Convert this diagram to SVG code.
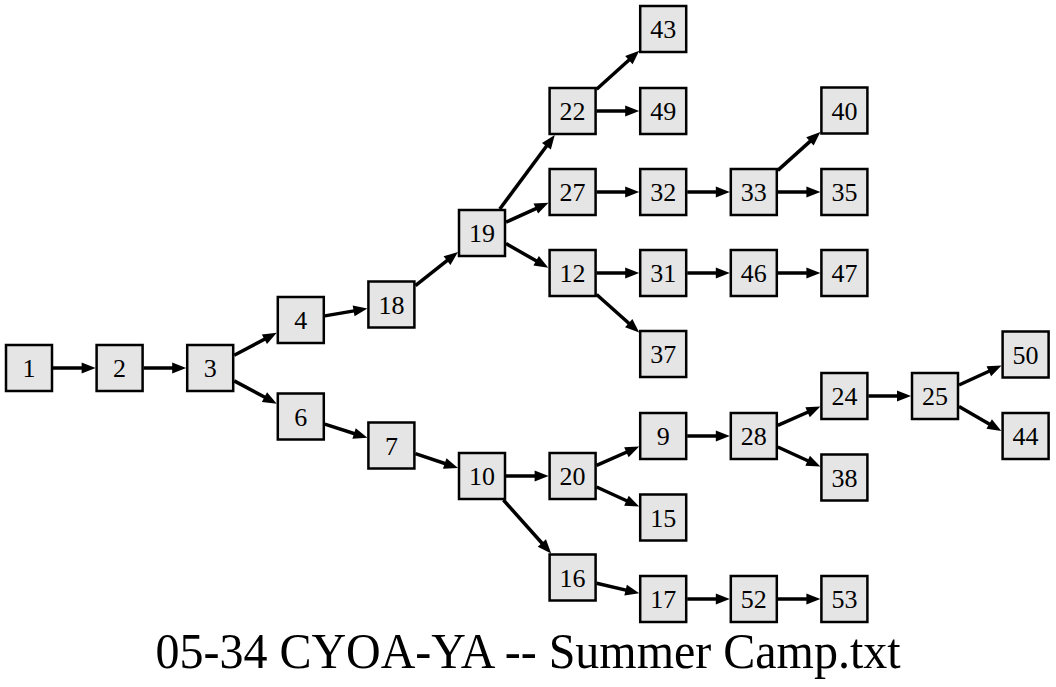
<svg xmlns="http://www.w3.org/2000/svg" width="1056" height="687" viewBox="0 0 1056 687">
<style>
.n rect{fill:#e5e5e5;stroke:#000;stroke-width:2.5}
.n text{font-family:"Liberation Serif","Times New Roman",serif;font-size:26px;text-anchor:middle;fill:#000}
.e path{fill:none;stroke:#000;stroke-width:3.5;marker-end:url(#ah)}
.title{font-family:"Liberation Serif","Times New Roman",serif;font-size:48px;text-anchor:middle;fill:#000}
</style>
<defs>
<marker id="ah" markerUnits="userSpaceOnUse" markerWidth="14" markerHeight="11" refX="8" refY="5.5" orient="auto" overflow="visible">
<path d="M0,0 L14,5.5 L0,11 z" fill="#000"/>
</marker>
</defs>
<rect width="1056" height="687" fill="#fff"/>
<g id="edges" class="e">
<path d="M53,368 L89.6,368"/>
<path d="M143.6,368 L180.2,368"/>
<path d="M234.2,355.3 L271.5,335.5"/>
<path d="M234.2,380.85 L271.5,400.8"/>
<path d="M324.8,315.9 L361.5,309.6"/>
<path d="M415.4,285.56 L453.3,255.7"/>
<path d="M499.8,209 L551.2,139.8"/>
<path d="M506,222.14 L543.1,205.3"/>
<path d="M506,243.6 L543.1,264.8"/>
<path d="M596.6,89.28 L634.8,54.7"/>
<path d="M596.6,111 L633.2,111"/>
<path d="M596.6,192 L633.2,192"/>
<path d="M687.2,192 L723.8,192"/>
<path d="M777.8,170.41 L815.9,136.1"/>
<path d="M777.8,192 L814.4,192"/>
<path d="M596.6,273 L633.2,273"/>
<path d="M596.6,294.46 L634.7,328.5"/>
<path d="M687.2,273 L723.8,273"/>
<path d="M777.8,273 L814.4,273"/>
<path d="M324.8,424.18 L361.7,436"/>
<path d="M415.4,453.58 L452.3,466"/>
<path d="M506,476 L542.6,476"/>
<path d="M503.4,500 L547.2,549"/>
<path d="M596.6,465.4 L633.7,449"/>
<path d="M596.6,486.99 L633.7,504"/>
<path d="M687.2,436 L723.8,436"/>
<path d="M777.8,425.4 L814.9,409"/>
<path d="M777.8,446.99 L814.9,464"/>
<path d="M868.4,396 L905,396"/>
<path d="M959,385.01 L996.1,368"/>
<path d="M959,406.6 L996.1,427.98"/>
<path d="M596.6,583.2 L633.4,591.9"/>
<path d="M687.2,599 L723.8,599"/>
<path d="M777.8,599 L814.4,599"/>
</g>
<g id="n1" class="n"><rect x="6" y="345" width="46" height="46"/><text x="29" y="377">1</text></g>
<g id="n2" class="n"><rect x="96.6" y="345" width="46" height="46"/><text x="119.6" y="377">2</text></g>
<g id="n3" class="n"><rect x="187.2" y="345" width="46" height="46"/><text x="210.2" y="377">3</text></g>
<g id="n4" class="n"><rect x="277.8" y="297" width="46" height="46"/><text x="300.8" y="329">4</text></g>
<g id="n6" class="n"><rect x="277.8" y="393.5" width="46" height="46"/><text x="300.8" y="425.5">6</text></g>
<g id="n18" class="n"><rect x="368.4" y="281.5" width="46" height="46"/><text x="391.4" y="313.5">18</text></g>
<g id="n7" class="n"><rect x="368.4" y="422.5" width="46" height="46"/><text x="391.4" y="454.5">7</text></g>
<g id="n19" class="n"><rect x="459" y="210" width="46" height="46"/><text x="482" y="242">19</text></g>
<g id="n10" class="n"><rect x="459" y="453" width="46" height="46"/><text x="482" y="485">10</text></g>
<g id="n22" class="n"><rect x="549.6" y="88" width="46" height="46"/><text x="572.6" y="120">22</text></g>
<g id="n27" class="n"><rect x="549.6" y="169" width="46" height="46"/><text x="572.6" y="201">27</text></g>
<g id="n12" class="n"><rect x="549.6" y="250" width="46" height="46"/><text x="572.6" y="282">12</text></g>
<g id="n20" class="n"><rect x="549.6" y="453" width="46" height="46"/><text x="572.6" y="485">20</text></g>
<g id="n16" class="n"><rect x="549.6" y="554.5" width="46" height="46"/><text x="572.6" y="586.5">16</text></g>
<g id="n43" class="n"><rect x="640.2" y="6" width="46" height="46"/><text x="663.2" y="38">43</text></g>
<g id="n49" class="n"><rect x="640.2" y="88" width="46" height="46"/><text x="663.2" y="120">49</text></g>
<g id="n32" class="n"><rect x="640.2" y="169" width="46" height="46"/><text x="663.2" y="201">32</text></g>
<g id="n31" class="n"><rect x="640.2" y="250" width="46" height="46"/><text x="663.2" y="282">31</text></g>
<g id="n37" class="n"><rect x="640.2" y="331" width="46" height="46"/><text x="663.2" y="363">37</text></g>
<g id="n9" class="n"><rect x="640.2" y="413" width="46" height="46"/><text x="663.2" y="445">9</text></g>
<g id="n15" class="n"><rect x="640.2" y="494.5" width="46" height="46"/><text x="663.2" y="526.5">15</text></g>
<g id="n17" class="n"><rect x="640.2" y="576" width="46" height="46"/><text x="663.2" y="608">17</text></g>
<g id="n33" class="n"><rect x="730.8" y="169" width="46" height="46"/><text x="753.8" y="201">33</text></g>
<g id="n46" class="n"><rect x="730.8" y="250" width="46" height="46"/><text x="753.8" y="282">46</text></g>
<g id="n28" class="n"><rect x="730.8" y="413" width="46" height="46"/><text x="753.8" y="445">28</text></g>
<g id="n52" class="n"><rect x="730.8" y="576" width="46" height="46"/><text x="753.8" y="608">52</text></g>
<g id="n40" class="n"><rect x="821.4" y="87.5" width="46" height="46"/><text x="844.4" y="119.5">40</text></g>
<g id="n35" class="n"><rect x="821.4" y="169" width="46" height="46"/><text x="844.4" y="201">35</text></g>
<g id="n47" class="n"><rect x="821.4" y="250" width="46" height="46"/><text x="844.4" y="282">47</text></g>
<g id="n24" class="n"><rect x="821.4" y="373" width="46" height="46"/><text x="844.4" y="405">24</text></g>
<g id="n38" class="n"><rect x="821.4" y="454.5" width="46" height="46"/><text x="844.4" y="486.5">38</text></g>
<g id="n53" class="n"><rect x="821.4" y="576" width="46" height="46"/><text x="844.4" y="608">53</text></g>
<g id="n25" class="n"><rect x="912" y="373" width="46" height="46"/><text x="935" y="405">25</text></g>
<g id="n50" class="n"><rect x="1002.6" y="331.5" width="46" height="46"/><text x="1025.6" y="363.5">50</text></g>
<g id="n44" class="n"><rect x="1002.6" y="413" width="46" height="46"/><text x="1025.6" y="445">44</text></g>
<text class="title" transform="translate(528,667.5) scale(1,1.05)" x="0" y="0">05-34 CYOA-YA -- Summer Camp.txt</text>
</svg>
